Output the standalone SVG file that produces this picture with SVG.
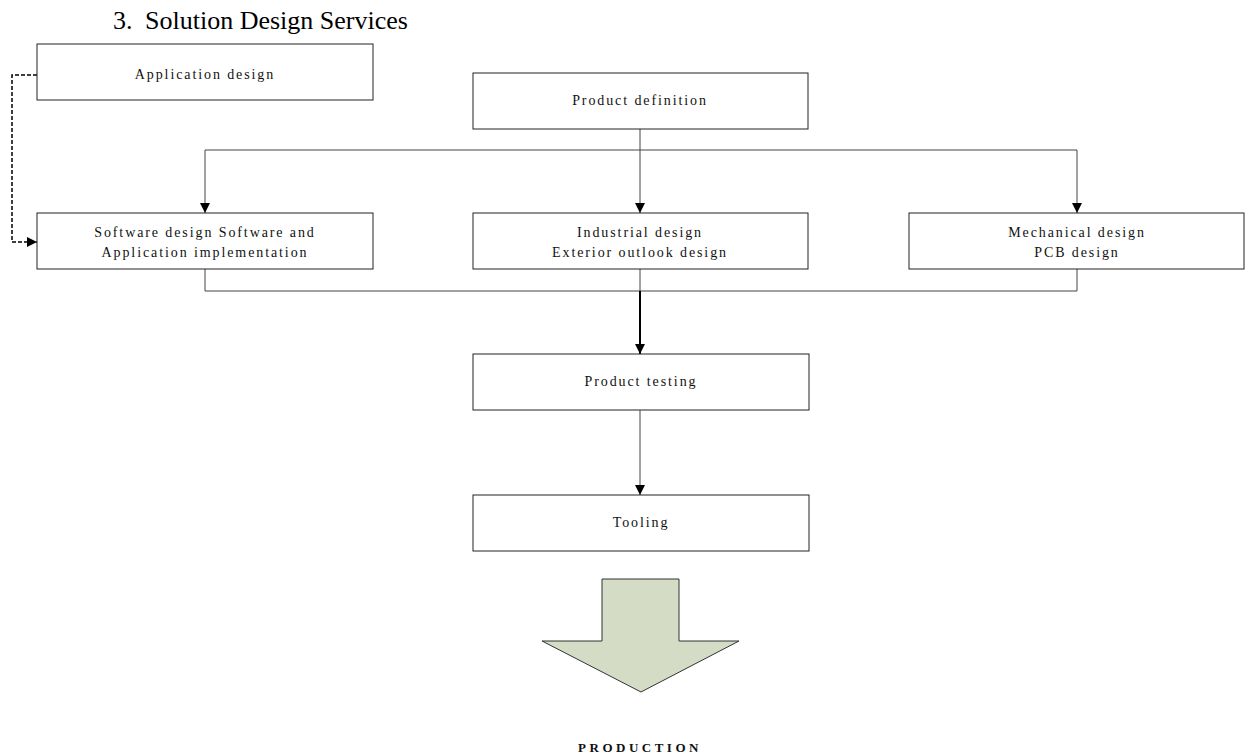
<svg xmlns="http://www.w3.org/2000/svg" width="1248" height="755" viewBox="0 0 1248 755">
<style>
.box{fill:#fff;stroke:#222;stroke-width:1}
.t{font-family:"Liberation Serif","Times New Roman",serif;font-size:14px;letter-spacing:1.9px;fill:#111;text-anchor:middle}
.c{fill:none;stroke:#444;stroke-width:1}
.title{font-family:"Liberation Serif","Times New Roman",serif;font-size:26px;fill:#000}
</style>
<defs>
<marker id="ah" viewBox="0 0 10 10" refX="10" refY="5" markerWidth="10" markerHeight="10" markerUnits="userSpaceOnUse" orient="auto">
<path d="M0,0 L10,5 L0,10 Z" fill="#000"/>
</marker>
</defs>
<rect width="1248" height="755" fill="#fff"/>
<g id="title"><text class="title" x="113" y="29">3.</text><text class="title" x="145" y="29">Solution Design Services</text></g>
<g id="connectors">
<path class="c" d="M640,129 V150"/>
<path class="c" d="M205,150 H1077"/>
<path class="c" d="M205,150 V213" marker-end="url(#ah)"/>
<path class="c" d="M640,150 V213" marker-end="url(#ah)"/>
<path class="c" d="M1077,150 V213" marker-end="url(#ah)"/>
<path class="c" d="M205,269 V291 H1077 V269"/>
<path class="c" d="M640,269 V291"/>
<path d="M640,291 V354" fill="none" stroke="#000" stroke-width="2" marker-end="url(#ah)"/>
<path class="c" d="M640,410 V495" marker-end="url(#ah)"/>
<path d="M37,75 H12 V242 H37" fill="none" stroke="#000" stroke-width="1.5" stroke-dasharray="4,2" marker-end="url(#ah)"/>
</g>
<g id="app-design"><rect class="box" x="37" y="44" width="336" height="56"/><text class="t" x="205" y="79">Application design</text></g>
<g id="product-definition"><rect class="box" x="473" y="73" width="335" height="56"/><text class="t" x="640" y="105">Product definition</text></g>
<g id="software-design"><rect class="box" x="37" y="213" width="336" height="56"/><text class="t" x="205" y="237">Software design Software and</text><text class="t" x="205" y="257">Application implementation</text></g>
<g id="industrial-design"><rect class="box" x="473" y="213" width="335" height="56"/><text class="t" x="640" y="237">Industrial design</text><text class="t" x="640" y="257">Exterior outlook design</text></g>
<g id="mechanical-design"><rect class="box" x="909" y="213" width="335" height="56"/><text class="t" x="1077" y="237">Mechanical design</text><text class="t" x="1077" y="257">PCB design</text></g>
<g id="product-testing"><rect class="box" x="473" y="354" width="336" height="56"/><text class="t" x="641" y="386">Product testing</text></g>
<g id="tooling"><rect class="box" x="473" y="495" width="336" height="56"/><text class="t" x="641" y="527">Tooling</text></g>
<g id="production-arrow"><polygon points="602,579 679,579 679,641 739,641 641,692 542,641 602,641" fill="#d4dcc5" stroke="#333" stroke-width="1"/></g>
<g id="production"><text x="640" y="752" font-family="Liberation Serif,Times New Roman,serif" font-size="13" font-weight="bold" letter-spacing="3.5" text-anchor="middle" fill="#111">PRODUCTION</text></g>
</svg>
